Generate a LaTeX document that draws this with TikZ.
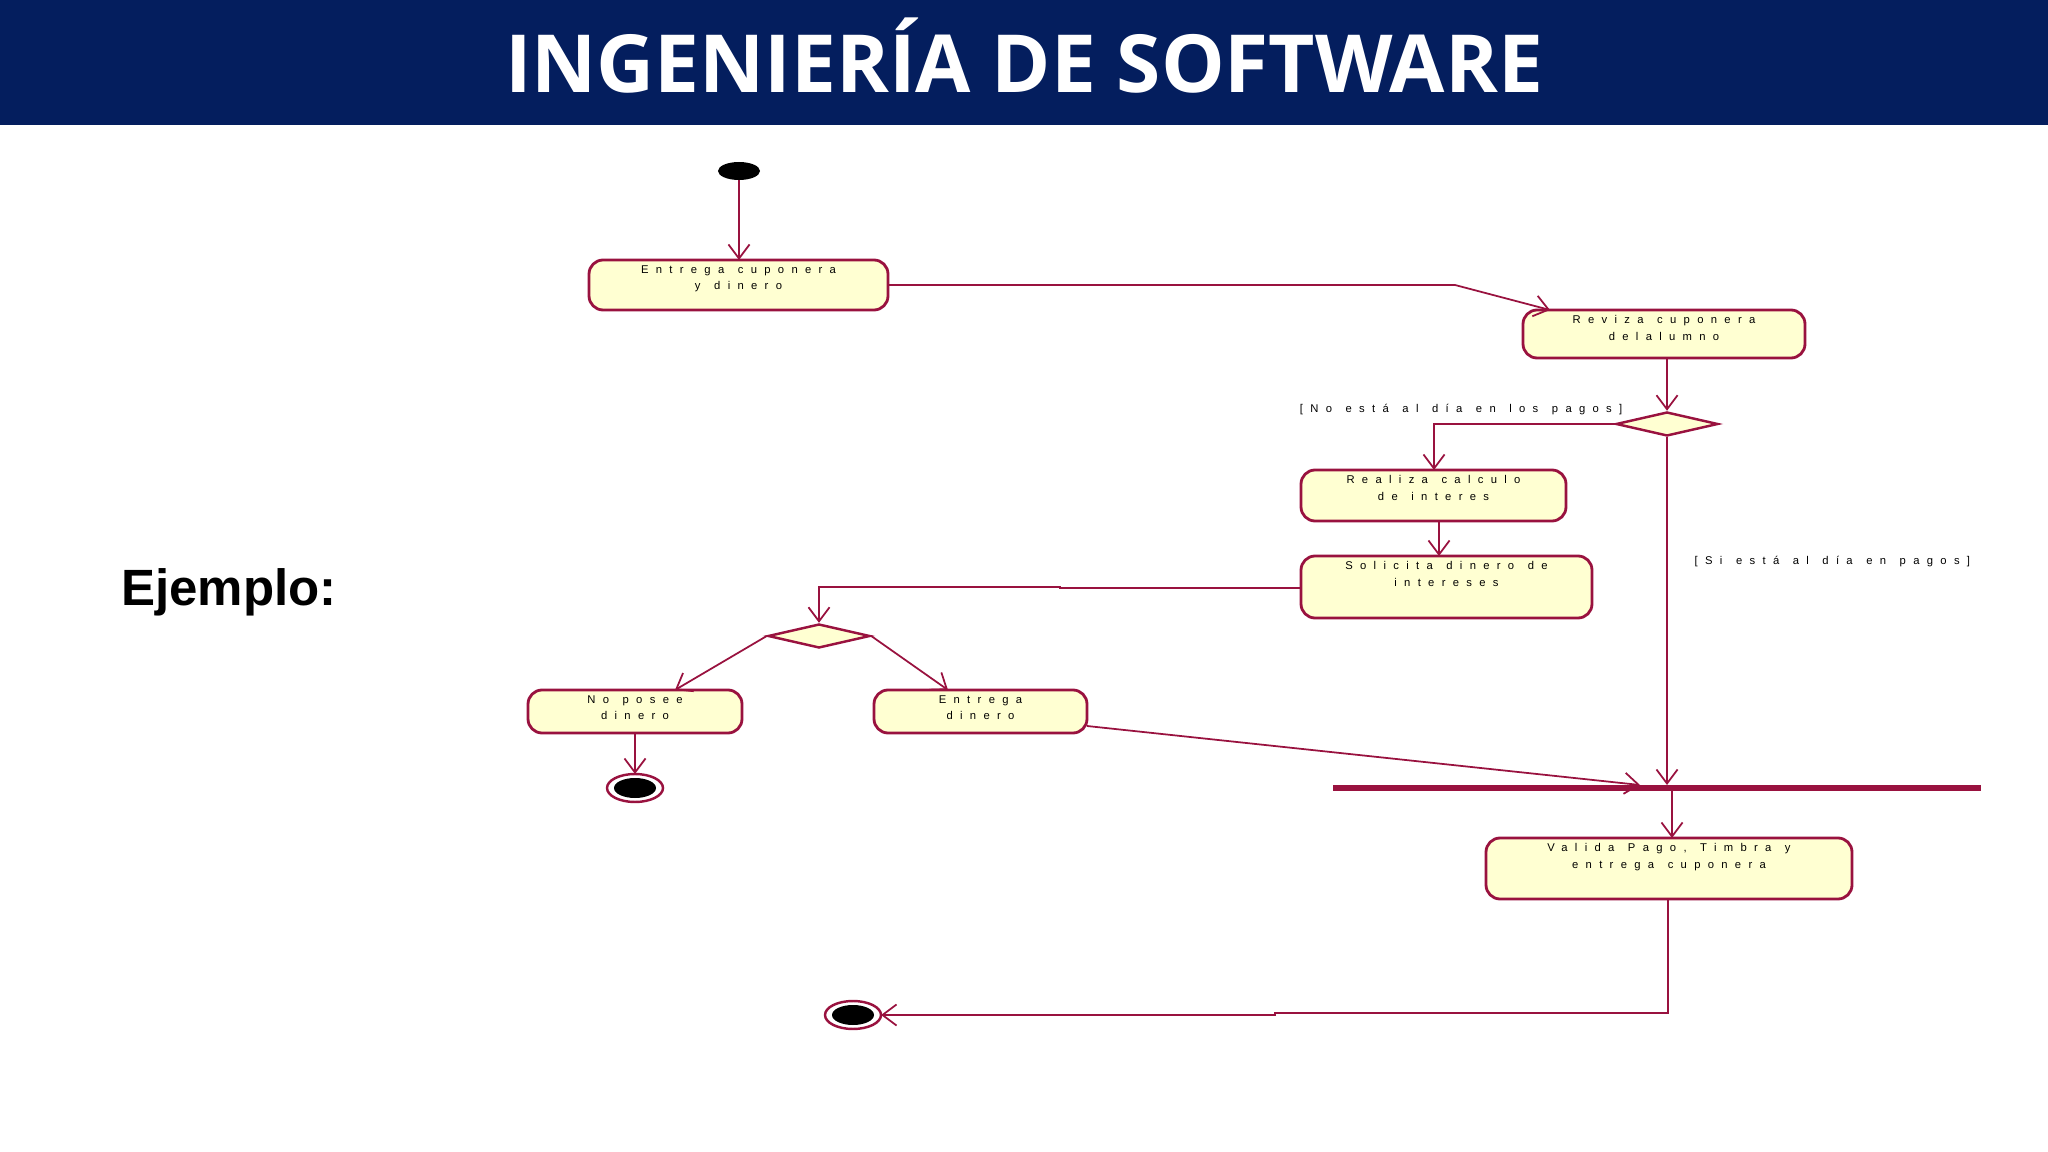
\documentclass[tikz,border=0pt]{standalone}
\usepackage{fontspec}
\setmainfont{Liberation Sans}
\newfontfamily\titlefont{Open Sans}
\newfontfamily\umlff[LetterSpace=65,WordSpace=1.3]{Liberation Sans}
\usetikzlibrary{arrows.meta,shapes.geometric}
\definecolor{navy}{HTML}{041E5E}
\definecolor{umlred}{HTML}{99123F}
\definecolor{umlfill}{HTML}{FFFFD2}
\begin{document}
\begin{tikzpicture}[x=0.01cm,y=-0.01cm,
  umlfont/.style={font=\umlff\fontsize{3.2pt}{4.6pt}\selectfont},
  act/.style={draw=umlred,fill=umlfill,rounded corners=4pt,line width=0.8pt,inner sep=0pt},
  flow/.style={draw=umlred,line width=0.5pt,-{Straight Barb[length=4pt,width=6pt]}},
  dec/.style={draw=umlred,fill=umlfill,diamond,minimum width=102*0.01cm,minimum height=24*0.01cm,inner sep=0pt,line width=0.7pt}]
\useasboundingbox (0,0) rectangle (2048,1152);
\fill[navy] (0,0) rectangle (2048,125);
\node[text=white,font=\titlefont\bfseries\fontsize{22.8pt}{26pt}\selectfont] (title) at (1024,56) {INGENIERÍA DE SOFTWARE};
\node[anchor=west,font=\bfseries\fontsize{14.5pt}{16pt}\selectfont] (ej) at (109,592) {Ejemplo:};

\fill[black] (739,171) ellipse (21 and 9);
\coordinate (start) at (739,180);
\newcommand{\actbox}[6]{%
 \draw[act] (#2,#3) rectangle (#4,#5);
 \node[umlfont,align=center,anchor=north,inner sep=0pt] (#1) at ({(#2+#4)/2},{#3+5}) {#6};
 \coordinate (#1nw) at (#2,#3); \coordinate (#1se) at (#4,#5);}
\actbox{a1}{589}{260}{888}{310}{Entrega cuponera\\y dinero}
\actbox{a2}{1523}{310}{1805}{358}{Reviza cuponera\\delalumno}
\actbox{a3}{1301}{470}{1566}{521}{Realiza calculo\\de interes}
\actbox{a4}{1301}{556}{1592}{618}{Solicita dinero de\\intereses}
\actbox{a5}{528}{690}{742}{733}{No posee\\dinero}
\actbox{a6}{874}{690}{1087}{733}{Entrega\\dinero}
\actbox{a7}{1486}{838}{1852}{899}{Valida Pago, Timbra y\\entrega cuponera}
\node[dec] (d1) at (1667,424) {};
\node[dec] (d2) at (819,636) {};
\fill[umlred] (1333,785) rectangle (1981,791);
\coordinate (bar) at (1667,788);
\draw[umlred,line width=0.7pt] (635,788) ellipse (28 and 14);
\fill[black] (635,788) ellipse (21 and 10);
\draw[umlred,line width=0.7pt] (853,1015) ellipse (28 and 14);
\fill[black] (853,1015) ellipse (21 and 10);
\coordinate (e1) at (635,774);
\coordinate (e2) at (881,1015);

\node[umlfont,anchor=east,inner sep=0pt] (g1) at (1623,410) {[No está al día en los pagos]};
\node[umlfont,anchor=west,inner sep=0pt] (g2) at (1694,562) {[Si está al día en pagos]};

\draw[flow] (start) -- (739,260);
\draw[flow] (888,285) -- (1455,285) -- (1550,310);
\draw[flow] (1667,358) -- (d1.north);
\draw[flow] (d1.west) -| (1434,470);
\draw[flow] (1439,521) -- (1439,556);
\draw[flow] (1301,588) -- (1060,588) -- (1060,587) -| (d2.north);
\draw[flow] (d2.west) -- (675,690);
\draw[flow] (d2.east) -- (948,690);
\draw[flow] (635,733) -- (e1);
\draw[flow] (1087,726) -- (1640,785);
\draw[flow] (d1.south) -- (1667,785);
\draw[flow] (1672,791) -- (1672,838);
\draw[flow] (1668,899) -- (1668,1013) -- (1275,1013) -- (1275,1015) -- (e2);
\end{tikzpicture}
\end{document}
